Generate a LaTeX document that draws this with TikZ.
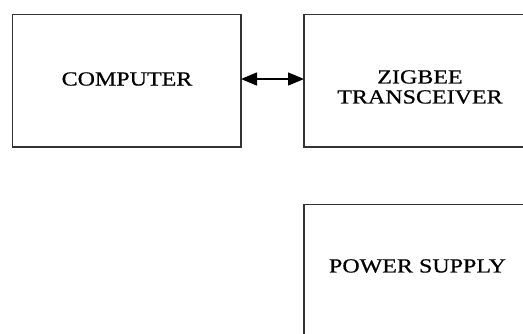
\documentclass[tikz,border=0pt]{standalone}
\usepackage{fontspec}
\setmainfont{Liberation Serif}[FakeStretch=1.2,FakeBold=0.6]
\usetikzlibrary{arrows.meta}
\begin{document}
\begin{tikzpicture}[x=1pt,y=-1pt,
  blockbox/.style={draw=black!80, line width=1.4pt, fill=white},
  blocklabel/.style={font=\fontsize{20}{20}\selectfont, align=center, inner sep=0pt, text=black},
  link/.style={line width=1.4pt, draw=black, {Triangle[length=16pt,width=13pt]}-{Triangle[length=16pt,width=13pt]}}]
  \useasboundingbox (0,0) rectangle (523,333);
  \clip (0,0) rectangle (523,333);
  % blocks
  \draw[blockbox] (12.5,14.5) rectangle (241,147);
  \draw[blockbox] (304,14.5) rectangle (540,147);
  \draw[blockbox] (304,204.5) rectangle (540,350);
  % labels
  \node[blocklabel] (comp) at (127,79) {COMPUTER};
  \node[blocklabel] (zig) at (420,87) {ZIGBEE\\TRANSCEIVER};
  \node[blocklabel] (psu) at (417.5,266) {POWER SUPPLY};
  % anchors on the facing box edges
  \coordinate (compE) at (241,79);
  \coordinate (zigW) at (304,79);
  \draw[link] (compE) -- (zigW);
\end{tikzpicture}
\end{document}
